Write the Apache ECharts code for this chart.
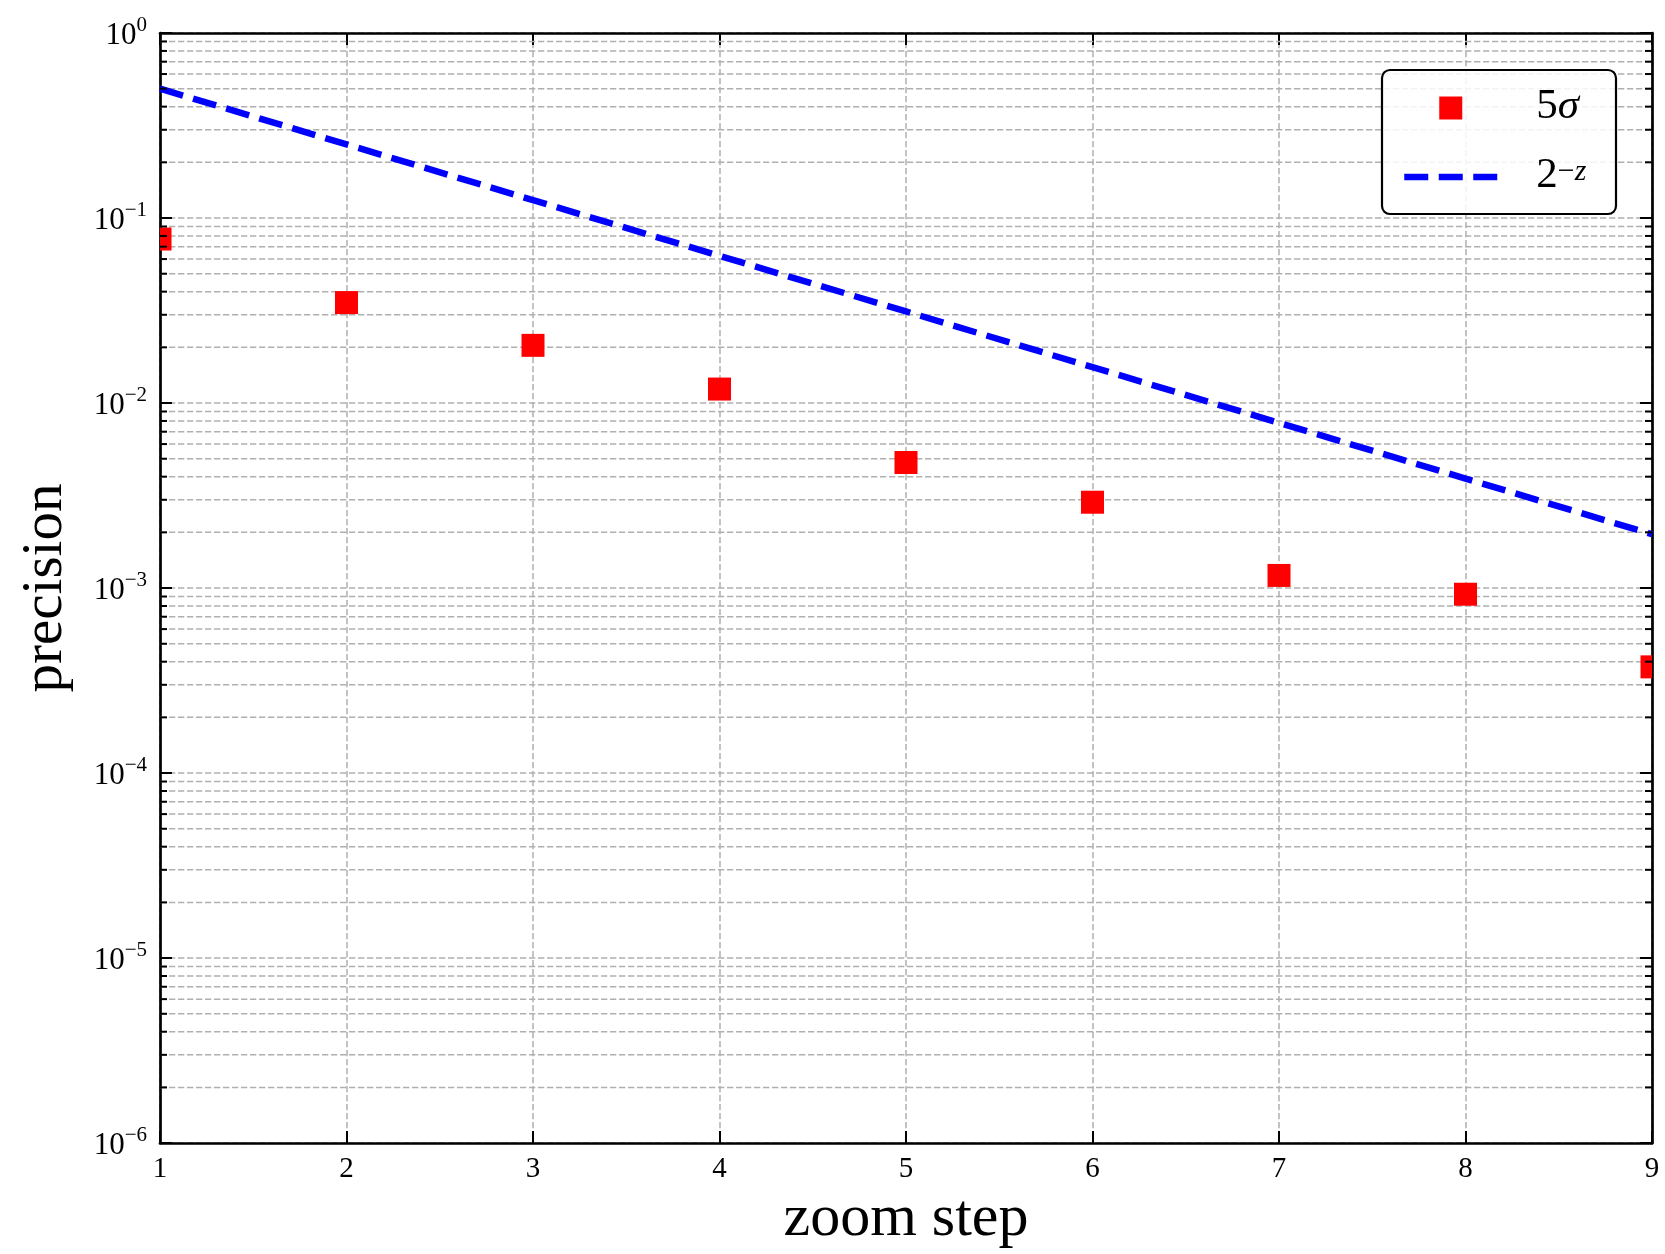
<!DOCTYPE html>
<html>
<head>
<meta charset="utf-8">
<script src="https://cdn.jsdelivr.net/npm/echarts@6.0.0/dist/echarts.min.js"></script>
<style>
html,body{margin:0;padding:0;background:#fff;}
#chart{width:1665px;height:1254px;}
</style>
</head>
<body>
<div id="chart"></div>
<script>
// ---- data ----
const zoomSteps = [1, 2, 3, 4, 5, 6, 7, 8, 9];
const sigma5 = [0.077, 0.0349, 0.0205, 0.0119, 0.00477, 0.00291, 0.00117, 0.000926, 0.000375];
const powTwo = [0.5, 0.25, 0.125, 0.0625, 0.03125, 0.015625, 0.0078125, 0.00390625, 0.001953125];
const xTicks = [1, 2, 3, 4, 5, 6, 7, 8, 9];
const yDecades = [1e-6, 1e-5, 1e-4, 1e-3, 1e-2, 1e-1, 1];
const minorMult = [2, 3, 4, 5, 6, 7, 8, 9];
const seriesNames = ['5σ', '2^-z'];

const F = "'Liberation Serif', 'DejaVu Serif', serif";
const GRID_COLOR = '#b0b0b0';
const GRID_DASH = [6.3, 2.7];

const minorVals = [];
for (let i = 0; i < yDecades.length - 1; i++) {
  minorMult.forEach(m => minorVals.push(yDecades[i] * m));
}

function supLabel(v) {
  const e = Math.round(Math.log10(v));
  const s = e < 0 ? '\u2212' + (-e) : String(e);
  return '{b|10}{s|' + s + '}';
}

const labelRich = {
  b: { fontSize: 31, fontFamily: F, color: '#000', lineHeight: 36, verticalAlign: 'bottom' },
  s: { fontSize: 21, fontFamily: F, color: '#000', lineHeight: 16, verticalAlign: 'top' }
};

const axisLineStyle = { color: '#000', width: 2.7 };
const tickStyle = { color: '#000', width: 2 };

const chart = echarts.init(document.getElementById('chart'), null, { renderer: 'canvas' });

function minorGridItem(params, api) {
  const cs = params.coordSys;
  const y = api.coord([xTicks[0], api.value(1)])[1];
  return {
    type: 'line',
    shape: { x1: cs.x, y1: y, x2: cs.x + cs.width, y2: y },
    style: { stroke: GRID_COLOR, lineWidth: 1.5, lineDash: GRID_DASH, fill: null }
  };
}
function minorTickItem(params, api) {
  const cs = params.coordSys;
  const y = api.coord([xTicks[0], api.value(1)])[1];
  return {
    type: 'group',
    children: [
      { type: 'line', shape: { x1: cs.x, y1: y, x2: cs.x + 7, y2: y }, style: { stroke: '#000', lineWidth: 2, fill: null } },
      { type: 'line', shape: { x1: cs.x + cs.width - 7, y1: y, x2: cs.x + cs.width, y2: y }, style: { stroke: '#000', lineWidth: 2, fill: null } }
    ]
  };
}

const option = {
  animation: false,
  backgroundColor: '#fff',
  grid: { left: 160, right: 13, top: 33, bottom: 108, containLabel: false },
  xAxis: [
    {
      type: 'value', min: xTicks[0], max: xTicks[xTicks.length - 1], interval: 1,
      position: 'bottom',
      name: 'zoom step', nameLocation: 'middle', nameGap: 37,
      nameTextStyle: { fontFamily: F, fontSize: 60, color: '#000' },
      axisLine: { show: true, lineStyle: axisLineStyle },
      axisTick: { show: true, inside: true, length: 12, lineStyle: tickStyle },
      axisLabel: { show: true, margin: 12, fontFamily: F, fontSize: 29, color: '#000', showMinLabel: true, showMaxLabel: true },
      splitLine: { show: true, lineStyle: { color: GRID_COLOR, width: 1.5, type: GRID_DASH } }
    },
    {
      type: 'value', min: xTicks[0], max: xTicks[xTicks.length - 1], interval: 1,
      position: 'top',
      axisLine: { show: true, lineStyle: axisLineStyle },
      axisTick: { show: true, inside: true, length: 12, lineStyle: tickStyle },
      axisLabel: { show: false },
      splitLine: { show: false }
    }
  ],
  yAxis: [
    {
      type: 'log', logBase: 10, min: yDecades[0], max: yDecades[yDecades.length - 1], splitNumber: 6,
      position: 'left',
      name: 'precision', nameLocation: 'middle', nameGap: 85,
      nameTextStyle: { fontFamily: F, fontSize: 57, color: '#000' },
      axisLine: { show: true, lineStyle: axisLineStyle },
      axisTick: { show: true, inside: true, length: 12, lineStyle: tickStyle },
      axisLabel: { show: true, margin: 13, formatter: supLabel, rich: labelRich, showMinLabel: true, showMaxLabel: true },
      splitLine: { show: true, lineStyle: { color: GRID_COLOR, width: 1.5, type: GRID_DASH } }
    },
    {
      type: 'log', logBase: 10, min: yDecades[0], max: yDecades[yDecades.length - 1], splitNumber: 6,
      position: 'right',
      axisLine: { show: true, lineStyle: axisLineStyle },
      axisTick: { show: true, inside: true, length: 12, lineStyle: tickStyle },
      axisLabel: { show: false },
      splitLine: { show: false }
    }
  ],
  legend: {
    orient: 'vertical',
    left: 1401, top: 85,
    itemWidth: 93, itemHeight: 23, itemGap: 26,
    padding: 0,
    selectedMode: false,
    z: 6,
    symbolKeepAspect: true,
    data: [
      { name: seriesNames[0], icon: 'path://M0 0H10V10H0Z' },
      { name: seriesNames[1], itemStyle: { color: 'rgba(0,0,0,0)', opacity: 0, borderWidth: 0 },
        lineStyle: { color: '#0000ff', width: 6.5, type: [24, 10.5], opacity: 1 } }
    ],
    lineStyle: { width: 6.5, type: [24, 10.5] },
    formatter: function (name) {
      if (name === seriesNames[0]) return '{n|5}{i|σ}';
      return '{n|2}{s|\u2212}{si|z}';
    },
    textStyle: {
      fontFamily: F, fontSize: 40, color: '#000', padding: [0, 0, 0, 34],
      rich: {
        n: { fontFamily: F, fontSize: 43, color: '#000', lineHeight: 40, verticalAlign: 'bottom' },
        i: { fontFamily: F, fontStyle: 'italic', fontSize: 43, color: '#000', lineHeight: 40, verticalAlign: 'bottom' },
        s: { fontFamily: F, fontSize: 30, color: '#000', lineHeight: 24, verticalAlign: 'top' },
        si: { fontFamily: F, fontStyle: 'italic', fontSize: 30, color: '#000', lineHeight: 24, verticalAlign: 'top' }
      }
    }
  },
  series: [
    {
      name: 'minor-grid',
      type: 'custom',
      silent: true,
      clip: false,
      z: 1,
      data: minorVals.map(v => [xTicks[0], v]),
      renderItem: minorGridItem
    },
    {
      name: 'minor-ticks',
      type: 'custom',
      silent: true,
      clip: false,
      z: 5,
      data: minorVals.map(v => [xTicks[0], v]),
      renderItem: minorTickItem
    },
    {
      name: seriesNames[1],
      type: 'line',
      data: zoomSteps.map((z, i) => [z, powTwo[i]]),
      showSymbol: false,
      symbol: 'none',
      color: '#0000ff',
      lineStyle: { color: '#0000ff', width: 6.5, type: [24, 10.5], cap: 'butt' },
      z: 3,
      clip: true
    },
    {
      name: seriesNames[0],
      type: 'custom',
      color: '#ff0000',
      itemStyle: { color: '#ff0000' },
      clip: true,
      z: 4,
      data: zoomSteps.map((z, i) => [z, sigma5[i]]),
      renderItem: function (params, api) {
        const p = api.coord([api.value(0), api.value(1)]);
        const s = 23;
        return {
          type: 'rect',
          shape: { x: p[0] - s / 2, y: p[1] - s / 2, width: s, height: s },
          style: { fill: '#ff0000' }
        };
      }
    }
  ]
};

chart.setOption(option);

// legend frame
const xR = chart.convertToPixel({ xAxisIndex: 0 }, xTicks[xTicks.length - 1]);
const yTop = chart.convertToPixel({ yAxisIndex: 0 }, yDecades[yDecades.length - 1]);
chart.setOption({
  graphic: {
    elements: [{
      type: 'rect', z: 5, silent: true,
      shape: { x: xR - 270, y: yTop + 37, width: 234, height: 144, r: 8 },
      style: { fill: 'rgba(255,255,255,0.85)', stroke: '#000', lineWidth: 2.2 }
    }]
  }
});
</script>
</body>
</html>
